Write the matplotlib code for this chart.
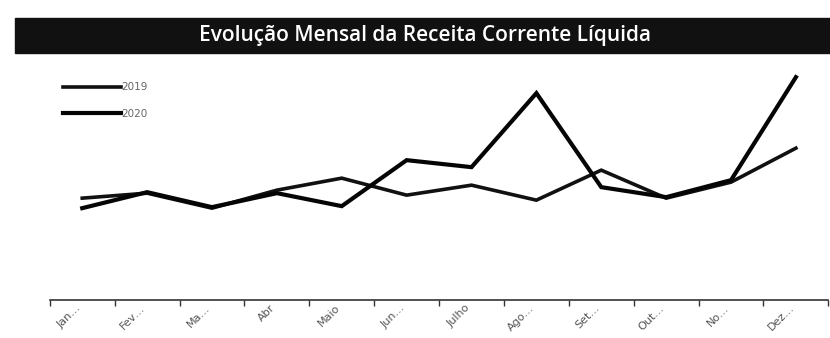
import matplotlib.pyplot as plt
from matplotlib.patches import Rectangle

meses = ['Jan…', 'Fev…', 'Ma…', 'Abr', 'Maio', 'Jun…', 'Julho', 'Ago…', 'Set…', 'Out…', 'No…', 'Dez…']
rcl_2019 = [102, 107, 92, 110, 122, 105, 115, 100, 130, 102, 118, 152]
rcl_2020 = [92, 108, 93, 107, 94, 140, 133, 207, 113, 103, 120, 223]

fig = plt.figure(figsize=(8.3, 3.38), dpi=100)
ax = fig.add_axes([0.06, 0.112, 0.938, 0.71])

# faixa preta do titulo
fig.patches.append(Rectangle((15/830, 1-53/338), 1-15/830, 35/338,
                             transform=fig.transFigure, color='#111111', zorder=0))
fig.text(0.512, 1-36/338, 'Evolução Mensal da Receita Corrente Líquida',
         color='white', fontsize=15, fontweight='semibold', family='Open Sans',
         ha='center', va='center')

x = list(range(len(meses)))
ax.plot(x, rcl_2019, color='#111111', lw=2.6, label='2019', solid_joinstyle='miter')
ax.plot(x, rcl_2020, color='#050505', lw=3.0, label='2020', solid_joinstyle='miter')

ax.set_xlim(-0.5, 11.5)
ax.set_ylim(0, 240)
ax.set_yticks([])
for s in ['top', 'right', 'left']:
    ax.spines[s].set_visible(False)
ax.spines['bottom'].set_color('#333333')
ax.spines['bottom'].set_linewidth(1.2)

# ticks entre categorias, rotulos no centro
ax.set_xticks([i - 0.5 for i in range(13)])
ax.set_xticklabels([])
ax.tick_params(axis='x', length=4, width=1, color='#333333')
ax.set_xticks(x, minor=True)
ax.set_xticklabels(meses, minor=True, rotation=45, ha='right', fontsize=8, color='#555555')
ax.tick_params(axis='x', which='minor', length=0, pad=2)

leg = ax.legend(loc='upper left', bbox_to_anchor=(0.012, 0.925), frameon=False,
                fontsize=7.5, handlelength=5.5, handletextpad=0.1, labelspacing=1.6,
                borderaxespad=0.0)
for t in leg.get_texts():
    t.set_color('#666666')

fig.savefig('out.png', dpi=100)
